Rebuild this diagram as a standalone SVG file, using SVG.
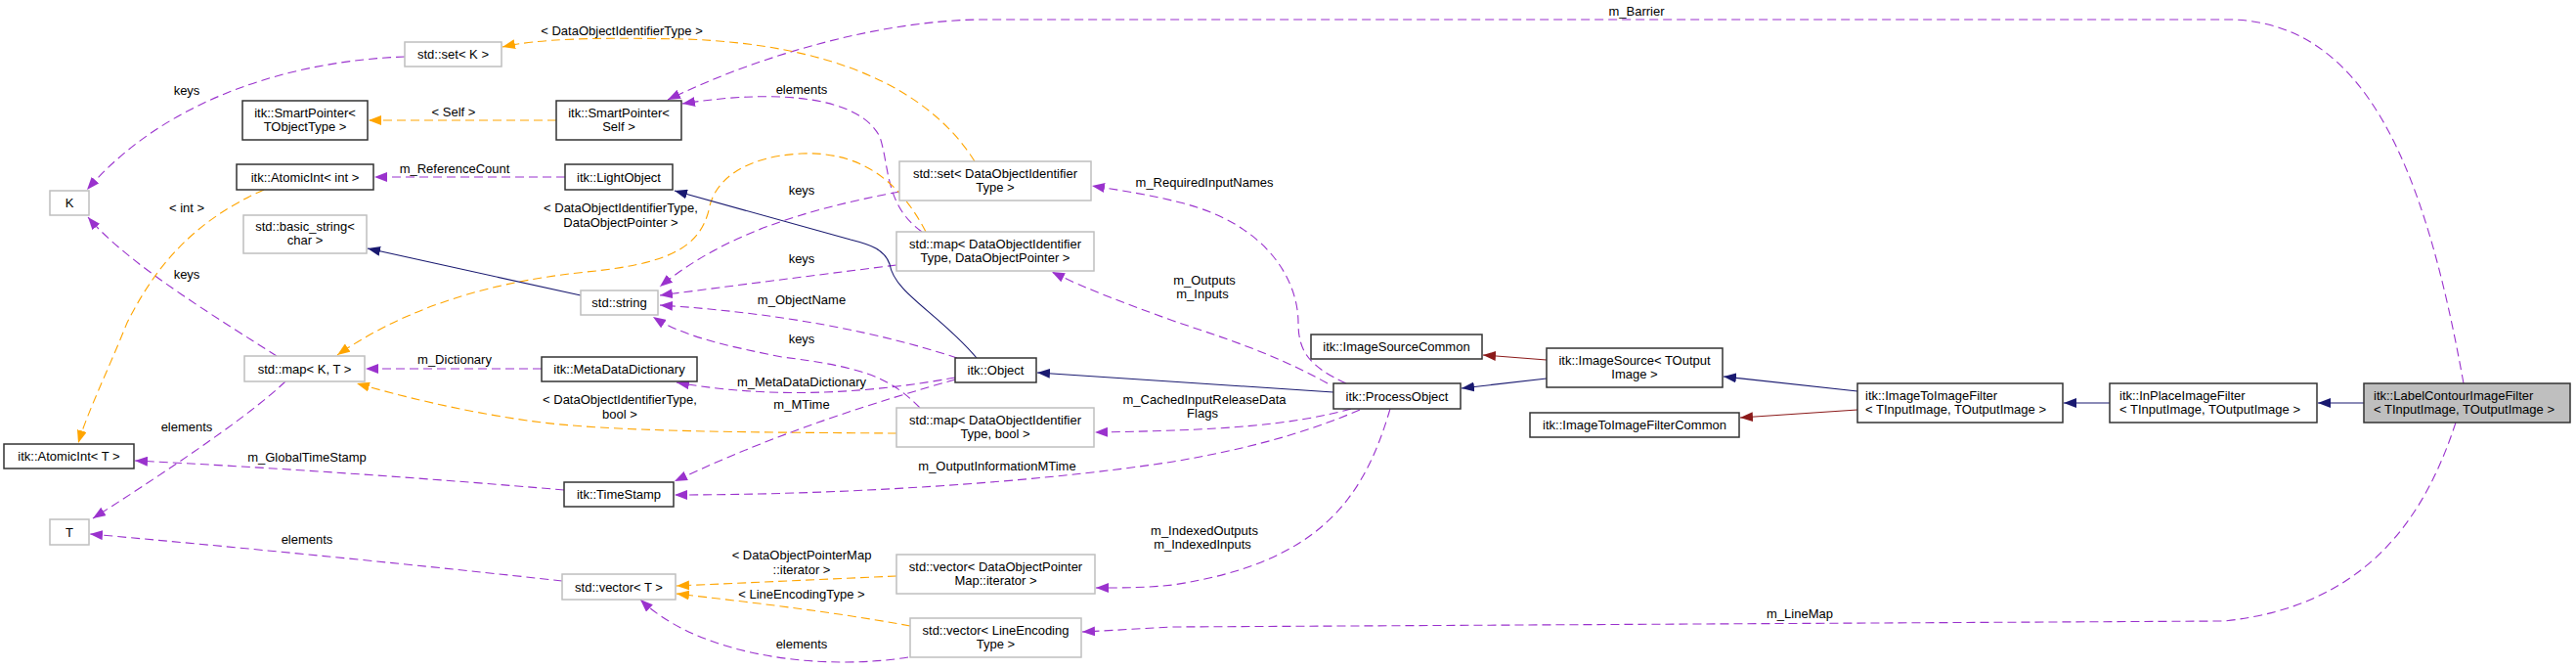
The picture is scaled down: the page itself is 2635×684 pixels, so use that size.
<svg xmlns="http://www.w3.org/2000/svg" width="2635" height="684" viewBox="0 0 2635 684">
<style>
text{font-family:"Liberation Sans",Arial,sans-serif;font-size:13px;fill:#000}
.c{text-anchor:middle}
.l{text-anchor:start}
.nb{fill:#fff;stroke:#333;stroke-width:1.5}
.ng{fill:#fff;stroke:#bfbfbf;stroke-width:1.5}
.nc{fill:#bfbfbf;stroke:#333;stroke-width:1.5}
.ep{fill:none;stroke:#9a32cd;stroke-width:1.1;stroke-dasharray:9,5;marker-end:url(#ap)}
.eo{fill:none;stroke:#ffa500;stroke-width:1.1;stroke-dasharray:9,5;marker-end:url(#ao)}
.en{fill:none;stroke:#191970;stroke-width:1.1;marker-end:url(#an)}
.er{fill:none;stroke:#8b1a1a;stroke-width:1.1;marker-end:url(#ar)}
</style>
<defs>
<marker id="ap" markerUnits="userSpaceOnUse" markerWidth="14" markerHeight="10" refX="13" refY="5" orient="auto"><path d="M0,0 L13,5 L0,10 z" fill="#9a32cd"/></marker>
<marker id="ao" markerUnits="userSpaceOnUse" markerWidth="14" markerHeight="10" refX="13" refY="5" orient="auto"><path d="M0,0 L13,5 L0,10 z" fill="#ffa500"/></marker>
<marker id="an" markerUnits="userSpaceOnUse" markerWidth="14" markerHeight="10" refX="13" refY="5" orient="auto"><path d="M0,0 L13,5 L0,10 z" fill="#191970"/></marker>
<marker id="ar" markerUnits="userSpaceOnUse" markerWidth="14" markerHeight="10" refX="13" refY="5" orient="auto"><path d="M0,0 L13,5 L0,10 z" fill="#8b1a1a"/></marker>
</defs>
<rect width="2635" height="684" fill="#fff"/>
<g id="connectors">
<path class="ep" d="M414,58 C300,62 170,100 89,194"/>
<path class="ep" d="M283,364 C230,330 130,270 90,222"/>
<path class="ep" d="M292,390 C250,430 150,495 95,530"/>
<path class="ep" d="M575,594 C450,580 250,560 92,546"/>
<path class="ep" d="M577,501 C450,490 280,478 138,471"/>
<path class="ep" d="M578,181 L383,181"/>
<path class="ep" d="M554,377 L374,377"/>
<path class="ep" d="M977,386 C900,400 800,410 692,391"/>
<path class="ep" d="M977,388 C900,410 800,440 690,492"/>
<path class="ep" d="M979,366 C900,340 800,320 675,312"/>
<path class="ep" d="M920,196 C820,215 740,240 675,293"/>
<path class="ep" d="M917,271 C830,282 750,292 675,302"/>
<path class="ep" d="M941,417 C910,385 880,375 800,365 C750,355 700,345 668,324"/>
<path class="ep" d="M943,237 C905,210 910,170 900,140 C880,100 800,90 698,106"/>
<path class="ep" d="M1377,392 C1340,375 1328,360 1328,330 C1328,290 1300,230 1207,207 C1180,200 1150,195 1117,190"/>
<path class="ep" d="M1358,392 C1300,360 1250,345 1200,328 C1150,310 1110,295 1076,278"/>
<path class="ep" d="M1382,418 C1320,435 1250,440 1120,442"/>
<path class="ep" d="M1391,419 C1330,445 1270,460 1200,472 C1050,495 850,506 690,506"/>
<path class="ep" d="M1422,418 C1395,510 1350,575 1200,598 C1170,601 1150,601 1121,601"/>
<path class="ep" d="M2512,432 C2480,530 2420,620 2275,635 L1200,641 C1160,643 1130,645 1107,646"/>
<path class="ep" d="M2520,392 C2480,170 2420,25 2284,20 L1000,20 C900,22 780,55 683,102"/>
<path class="ep" d="M929,672 C850,685 720,675 655,613"/>
<path class="eo" d="M997,165 C950,90 850,45 700,40 C600,38 550,40 514,48"/>
<path class="eo" d="M569,123 L377,123"/>
<path class="eo" d="M270,194 C200,225 160,270 130,330 C110,380 90,420 80,453"/>
<path class="eo" d="M947,237 C915,175 870,155 820,157 C760,160 730,185 725,215 C715,255 680,270 600,278 C480,290 400,325 345,363"/>
<path class="eo" d="M917,443 C780,442 620,442 540,430 C470,420 410,405 365,392"/>
<path class="eo" d="M917,589 L692,599"/>
<path class="eo" d="M931,640 C850,625 760,615 692,607"/>
<path class="en" d="M999,366 C960,320 915,300 910,270 C905,255 890,250 870,245 L690,195"/>
<path class="en" d="M1364,401 L1061,381"/>
<path class="en" d="M594,302 L376,254"/>
<path class="er" d="M1582,368 L1517,363"/>
<path class="en" d="M1582,387 L1495,397"/>
<path class="en" d="M1900,400 L1763,385"/>
<path class="er" d="M1900,419 L1780,427"/>
<path class="en" d="M2158,412 L2111,412"/>
<path class="en" d="M2418,412 L2371,412"/>
<text class="c" x="636" y="36">&lt; DataObjectIdentifierType &gt;</text>
<text class="c" x="1674" y="16">m_Barrier</text>
<text class="c" x="191" y="97">keys</text>
<text class="c" x="820" y="96">elements</text>
<text class="c" x="464" y="119">&lt; Self &gt;</text>
<text class="c" x="465" y="177">m_ReferenceCount</text>
<text class="c" x="1232" y="191">m_RequiredInputNames</text>
<text class="c" x="820" y="199">keys</text>
<text class="c" x="191" y="217">&lt; int &gt;</text>
<text class="c" x="635" y="217">&lt; DataObjectIdentifierType,</text>
<text class="c" x="635" y="232">DataObjectPointer &gt;</text>
<text class="c" x="820" y="269">keys</text>
<text class="c" x="191" y="285">keys</text>
<text class="c" x="1232" y="291">m_Outputs</text>
<text class="c" x="1230" y="305">m_Inputs</text>
<text class="c" x="820" y="311">m_ObjectName</text>
<text class="c" x="820" y="351">keys</text>
<text class="c" x="465" y="372">m_Dictionary</text>
<text class="c" x="820" y="395">m_MetaDataDictionary</text>
<text class="c" x="634" y="413">&lt; DataObjectIdentifierType,</text>
<text class="c" x="634" y="428">bool &gt;</text>
<text class="c" x="1232" y="413">m_CachedInputReleaseData</text>
<text class="c" x="1230" y="427">Flags</text>
<text class="c" x="820" y="418">m_MTime</text>
<text class="c" x="191" y="441">elements</text>
<text class="c" x="314" y="472">m_GlobalTimeStamp</text>
<text class="c" x="1020" y="481">m_OutputInformationMTime</text>
<text class="c" x="1232" y="547">m_IndexedOutputs</text>
<text class="c" x="1230" y="561">m_IndexedInputs</text>
<text class="c" x="314" y="556">elements</text>
<text class="c" x="820" y="572">&lt; DataObjectPointerMap</text>
<text class="c" x="820" y="587">::iterator &gt;</text>
<text class="c" x="820" y="612">&lt; LineEncodingType &gt;</text>
<text class="c" x="1841" y="632">m_LineMap</text>
<text class="c" x="820" y="663">elements</text>
</g>
<g id="n_setK"><rect class="ng" x="414" y="43" width="99" height="25"/><text class="c" x="463.5" y="60">std::set&lt; K &gt;</text></g>
<g id="n_spT"><rect class="nb" x="248" y="103" width="128" height="40"/><text class="c" x="312" y="119.5">itk::SmartPointer&lt;</text><text class="c" x="312" y="133.5">TObjectType &gt;</text></g>
<g id="n_spS"><rect class="nb" x="569" y="103" width="128" height="40"/><text class="c" x="633" y="119.5">itk::SmartPointer&lt;</text><text class="c" x="633" y="133.5">Self &gt;</text></g>
<g id="n_aiInt"><rect class="nb" x="242" y="168" width="140" height="26"/><text class="c" x="312" y="185.5">itk::AtomicInt&lt; int &gt;</text></g>
<g id="n_light"><rect class="nb" x="578" y="168" width="110" height="26"/><text class="c" x="633" y="185.5">itk::LightObject</text></g>
<g id="n_K"><rect class="ng" x="51" y="195" width="40" height="25"/><text class="c" x="71" y="212">K</text></g>
<g id="n_bstr"><rect class="ng" x="249" y="220" width="126" height="39"/><text class="c" x="312" y="236">std::basic_string&lt;</text><text class="c" x="312" y="250">char &gt;</text></g>
<g id="n_str"><rect class="ng" x="594" y="297" width="79" height="25"/><text class="c" x="633.5" y="314">std::string</text></g>
<g id="n_mapKT"><rect class="ng" x="250" y="364" width="123" height="26"/><text class="c" x="311.5" y="381.5">std::map&lt; K, T &gt;</text></g>
<g id="n_mdd"><rect class="nb" x="554" y="365" width="159" height="25"/><text class="c" x="633.5" y="382">itk::MetaDataDictionary</text></g>
<g id="n_aiT"><rect class="nb" x="4" y="454" width="133" height="25"/><text class="c" x="70.5" y="471">itk::AtomicInt&lt; T &gt;</text></g>
<g id="n_ts"><rect class="nb" x="577" y="493" width="112" height="25"/><text class="c" x="633" y="510">itk::TimeStamp</text></g>
<g id="n_T"><rect class="ng" x="51" y="531" width="40" height="26"/><text class="c" x="71" y="548.5">T</text></g>
<g id="n_vecT"><rect class="ng" x="575" y="587" width="116" height="26"/><text class="c" x="633" y="604.5">std::vector&lt; T &gt;</text></g>
<g id="n_setD"><rect class="ng" x="920" y="165" width="196" height="40"/><text class="c" x="1018" y="181.5">std::set&lt; DataObjectIdentifier</text><text class="c" x="1018" y="195.5">Type &gt;</text></g>
<g id="n_mapDP"><rect class="ng" x="917" y="237" width="202" height="40"/><text class="c" x="1018" y="253.5">std::map&lt; DataObjectIdentifier</text><text class="c" x="1018" y="267.5">Type, DataObjectPointer &gt;</text></g>
<g id="n_obj"><rect class="nb" x="977" y="366" width="83" height="25"/><text class="c" x="1018.5" y="383">itk::Object</text></g>
<g id="n_mapDB"><rect class="ng" x="917" y="417" width="202" height="40"/><text class="c" x="1018" y="433.5">std::map&lt; DataObjectIdentifier</text><text class="c" x="1018" y="447.5">Type, bool &gt;</text></g>
<g id="n_vecDP"><rect class="ng" x="917" y="567" width="203" height="40"/><text class="c" x="1018.5" y="583.5">std::vector&lt; DataObjectPointer</text><text class="c" x="1018.5" y="597.5">Map::iterator &gt;</text></g>
<g id="n_vecLE"><rect class="ng" x="931" y="632" width="175" height="40"/><text class="c" x="1018.5" y="648.5">std::vector&lt; LineEncoding</text><text class="c" x="1018.5" y="662.5">Type &gt;</text></g>
<g id="n_isc"><rect class="nb" x="1341" y="342" width="175" height="25"/><text class="c" x="1428.5" y="359">itk::ImageSourceCommon</text></g>
<g id="n_is"><rect class="nb" x="1582" y="356" width="180" height="40"/><text class="c" x="1672" y="372.5">itk::ImageSource&lt; TOutput</text><text class="c" x="1672" y="386.5">Image &gt;</text></g>
<g id="n_po"><rect class="nb" x="1364" y="392" width="130" height="26"/><text class="c" x="1429" y="409.5">itk::ProcessObject</text></g>
<g id="n_itic"><rect class="nb" x="1565" y="422" width="214" height="25"/><text class="c" x="1672" y="439">itk::ImageToImageFilterCommon</text></g>
<g id="n_iti"><rect class="nb" x="1900" y="392" width="210" height="40"/><text class="l" x="1908" y="408.5">itk::ImageToImageFilter</text><text class="l" x="1908" y="422.5">&lt; TInputImage, TOutputImage &gt;</text></g>
<g id="n_ipf"><rect class="nb" x="2158" y="392" width="212" height="40"/><text class="l" x="2168" y="408.5">itk::InPlaceImageFilter</text><text class="l" x="2168" y="422.5">&lt; TInputImage, TOutputImage &gt;</text></g>
<g id="n_lc"><rect class="nc" x="2418" y="392" width="211" height="40"/><text class="l" x="2428" y="408.5">itk::LabelContourImageFilter</text><text class="l" x="2428" y="422.5">&lt; TInputImage, TOutputImage &gt;</text></g>
</svg>
